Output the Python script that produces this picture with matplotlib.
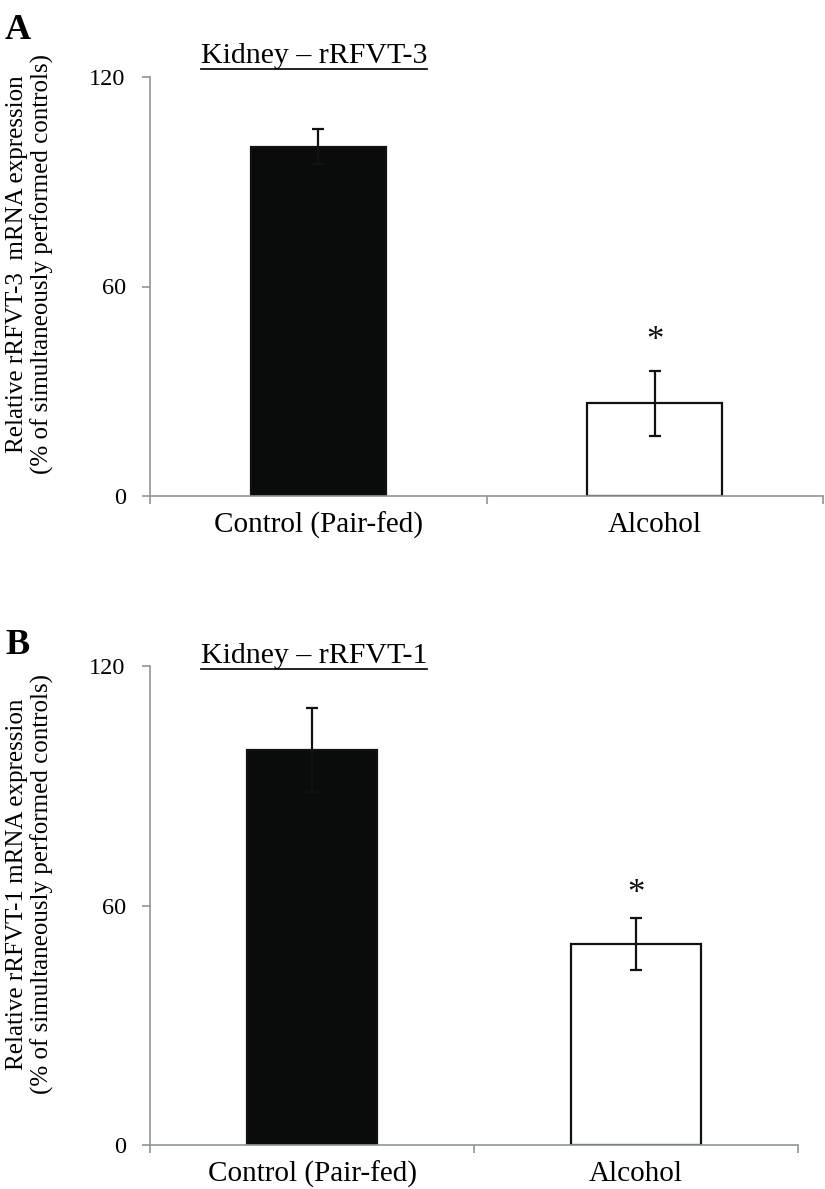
import matplotlib
matplotlib.use("Agg")
import matplotlib.pyplot as plt
from matplotlib.lines import Line2D

plt.rcParams['font.family'] = ['Liberation Serif', 'DejaVu Serif']

categories = ["Control (Pair-fed)", "Alcohol"]
a_values = [100, 26.6]
a_errors = [5, 9.3]
b_values = [99, 50.3]
b_errors = [10.5, 6.5]
yticks = [0, 60, 120]
bar_colors = ["#0a0c0b", "white"]

fig = plt.figure(figsize=(8.25, 11.89), dpi=100)
W, H = 825, 1189

def make_axes(left, right, top, bottom):
    return fig.add_axes([left / W, 1 - bottom / H, (right - left) / W, (bottom - top) / H])

def draw_panel(ax, values, errors, title, ylabel, star_y, letter, letter_xy, title_xy, ylabel_xy):
    x = list(range(len(categories)))
    ax.bar(x, values, width=0.40, color=bar_colors, edgecolor="#111111", linewidth=1.6, zorder=2)
    ax.errorbar(x, values, yerr=errors, fmt="none", ecolor="#111111", elinewidth=1.6,
                capsize=4.2, capthick=1.6, zorder=3)
    ax.text(1, star_y, "*", ha="center", va="center", fontsize=25, color="#111111")
    ax.set_xlim(-0.5, 1.5)
    ax.set_ylim(0, 120)
    ax.set_yticks(yticks)
    ax.set_yticklabels([str(t) for t in yticks], fontsize=17.5)
    ax.set_xticks([-0.5, 0.5, 1.5])
    ax.set_xticklabels([])
    ax.set_xticks(x, minor=True)
    ax.set_xticklabels(categories, minor=True, fontsize=21)
    ax.tick_params(axis="x", which="minor", length=0, pad=11.5)
    ax.tick_params(axis="x", which="major", direction="out", length=6, color="#8c9696", width=1.2)
    ax.tick_params(axis="y", direction="out", length=6, color="#8c9696", width=1.2, pad=11.5)
    for s in ["top", "right"]:
        ax.spines[s].set_visible(False)
    for s in ["left", "bottom"]:
        ax.spines[s].set_color("#8c9696")
        ax.spines[s].set_linewidth(1.2)
    fig.text(ylabel_xy[0] / W, 1 - ylabel_xy[1] / H, ylabel, fontsize=18, rotation=90,
             ha="center", va="center", multialignment="center", linespacing=1.15)
    fig.text(letter_xy[0] / W, 1 - letter_xy[1] / H, letter, fontsize=26, fontweight="bold",
             ha="left", va="baseline")
    t = fig.text(title_xy[0] / W, 1 - title_xy[1] / H, title, fontsize=21.5, ha="center", va="baseline")
    return t

axA = make_axes(150, 823, 77, 496)
tA = draw_panel(axA, a_values, a_errors, "Kidney \u2013 rRFVT-3",
                "Relative rRFVT-3  mRNA expression\n(% of simultaneously performed controls)",
                44.2, "A", (5, 39), (314, 63), (30, 264))
axB = make_axes(150, 798, 666, 1145)
tB = draw_panel(axB, b_values, b_errors, "Kidney \u2013 rRFVT-1",
                "Relative rRFVT-1 mRNA expression\n(% of simultaneously performed controls)",
                62.8, "B", (5, 654), (314, 663), (30, 884))

fig.canvas.draw()
r = fig.canvas.get_renderer()
for t in (tA, tB):
    bb = t.get_window_extent(renderer=r)
    x0, x1 = bb.x0 / W, bb.x1 / W
    y = t.get_position()[1] - 5.5 / H
    fig.add_artist(Line2D([x0, x1], [y, y], color="#111111", linewidth=1.3, transform=fig.transFigure))

fig.savefig("out.png", dpi=100)
